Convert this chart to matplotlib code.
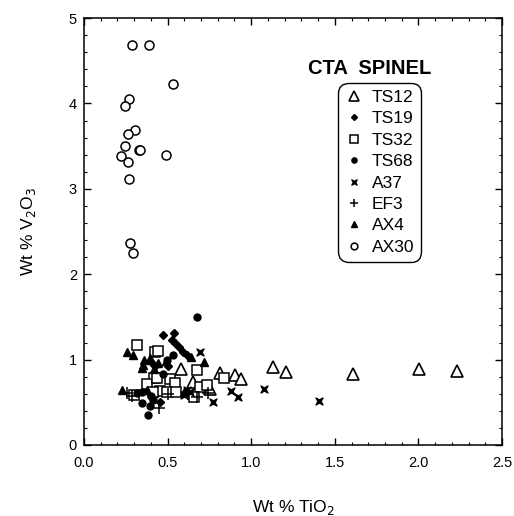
import matplotlib
matplotlib.use("Agg")
import matplotlib.pyplot as plt
from matplotlib.path import Path
from matplotlib.ticker import MultipleLocator, FormatStrFormatter

plt.rcParams['font.family'] = ['Liberation Sans', 'DejaVu Sans']

# ---- data (Wt % TiO2, Wt % V2O3) ----
ts12_x = [0.58, 0.654, 0.754, 0.813, 0.903, 0.937, 1.132, 1.208, 1.607, 2.004, 2.229]
ts12_y = [0.886, 0.74, 0.66, 0.84, 0.82, 0.77, 0.91, 0.855, 0.83, 0.886, 0.87]

ts19_x = [0.474, 0.538, 0.524, 0.545, 0.568, 0.594, 0.614, 0.425, 0.455, 0.43, 0.40, 0.50]
ts19_y = [1.29, 1.315, 1.23, 1.19, 1.15, 1.09, 1.05, 0.92, 0.507, 0.60, 0.97, 0.93]

ts32_x = [0.315, 0.425, 0.445, 0.674, 0.837, 0.419, 0.375, 0.435, 0.514, 0.544,
          0.694, 0.734, 0.455, 0.495, 0.415, 0.30, 0.55, 0.66]
ts32_y = [1.17, 1.09, 1.10, 0.878, 0.79, 0.78, 0.71, 0.79, 0.77, 0.73,
          0.683, 0.70, 0.636, 0.625, 0.625, 0.58, 0.62, 0.56]

ts68_x = [0.673, 0.345, 0.395, 0.381, 0.415, 0.315, 0.345, 0.534, 0.495, 0.47, 0.40]
ts68_y = [1.50, 0.49, 0.457, 0.35, 0.527, 0.605, 0.625, 1.05, 0.995, 0.83, 0.57]

a37_x = [0.694, 0.773, 0.877, 0.923, 1.077, 1.407, 0.614, 0.634, 0.60]
a37_y = [1.09, 0.507, 0.636, 0.566, 0.652, 0.52, 0.644, 0.625, 0.58]

ef3_x = [0.255, 0.285, 0.449, 0.674, 0.744, 0.50, 0.62]
ef3_y = [0.605, 0.574, 0.43, 0.566, 0.61, 0.60, 0.60]

ax4_x = [0.255, 0.295, 0.355, 0.345, 0.395, 0.225, 0.375, 0.72, 0.638, 0.49, 0.42, 0.44, 0.60, 0.36]
ax4_y = [1.085, 1.05, 0.94, 0.905, 1.015, 0.644, 0.644, 0.975, 1.03, 0.98, 0.89, 0.96, 0.62, 0.99]

ax30_x = [0.289, 0.39, 0.534, 0.271, 0.247, 0.307, 0.261, 0.247, 0.327, 0.335,
          0.223, 0.49, 0.261, 0.267, 0.273, 0.293]
ax30_y = [4.68, 4.68, 4.23, 4.05, 3.97, 3.69, 3.64, 3.50, 3.45, 3.45,
          3.38, 3.40, 3.31, 3.11, 2.36, 2.25]

labels = ['TS12', 'TS19', 'TS32', 'TS68', 'A37', 'EF3', 'AX4', 'AX30']

# bowtie / notched-cross marker for A37
bow = Path([(-1, -1), (0, -0.45), (1, -1), (0.45, 0), (1, 1), (0, 0.45), (-1, 1), (-0.45, 0), (-1, -1)],
           [Path.MOVETO] + [Path.LINETO] * 7 + [Path.CLOSEPOLY])

fig = plt.figure(figsize=(5.14, 5.16), dpi=100)
ax = fig.add_axes([0.1634, 0.1376, 0.8133, 0.8274])

k = dict(linestyle='none', color='black')
ax.plot(ts12_x, ts12_y, marker='^', markersize=9, markerfacecolor='white', markeredgewidth=1.2, label=labels[0], **k)
ax.plot(ts19_x, ts19_y, marker='D', markersize=4, markerfacecolor='black', label=labels[1], **k)
ax.plot(ts32_x, ts32_y, marker='s', markersize=7, markerfacecolor='white', markeredgewidth=1.1, label=labels[2], **k)
ax.plot(ts68_x, ts68_y, marker='o', markersize=5, markerfacecolor='black', label=labels[3], **k)
ax.plot(a37_x, a37_y, marker=bow, markersize=5, markerfacecolor='black', label=labels[4], **k)
ax.plot(ef3_x, ef3_y, marker='+', markersize=8, markeredgewidth=1.1, label=labels[5], **k)
ax.plot(ax4_x, ax4_y, marker='^', markersize=5.5, markerfacecolor='black', label=labels[6], **k)
ax.plot(ax30_x, ax30_y, marker='o', markersize=6.5, markerfacecolor='white', markeredgewidth=1.1, label=labels[7], **k)

ax.set_xlim(0, 2.5)
ax.set_ylim(0, 5)
ax.xaxis.set_major_locator(MultipleLocator(0.5))
ax.xaxis.set_minor_locator(MultipleLocator(0.1))
ax.yaxis.set_major_locator(MultipleLocator(1))
ax.yaxis.set_minor_locator(MultipleLocator(0.2))
ax.xaxis.set_major_formatter(FormatStrFormatter('%.1f'))
ax.tick_params(which='both', direction='in', top=True, right=True, labelsize=10.5)
ax.tick_params(which='major', length=5, width=1)
ax.tick_params(axis='x', which='major', pad=8)
ax.tick_params(axis='y', which='major', pad=5)
ax.tick_params(which='minor', length=2.5, width=0.8)
for s in ax.spines.values():
    s.set_linewidth(1.1)

ax.set_xlabel('Wt % TiO$_2$', fontsize=12.5, labelpad=20)
ax.set_ylabel('Wt % V$_2$O$_3$', fontsize=12.5, labelpad=22)

ax.text(0.684, 0.883, 'CTA  SPINEL', transform=ax.transAxes, ha='center', va='center',
        fontsize=14.5, fontweight='bold')

leg = ax.legend(loc='upper left', bbox_to_anchor=(0.608, 0.848), borderaxespad=0,
                fontsize=12.5, markerscale=0.75, handlelength=1.0, handletextpad=0.55,
                labelspacing=0.36, borderpad=0.4, fancybox=True, framealpha=1,
                edgecolor='black')
leg.get_frame().set_linewidth(1.0)
leg.get_frame().set_boxstyle('round', pad=0, rounding_size=0.6)

fig.savefig('out.png', dpi=100)
